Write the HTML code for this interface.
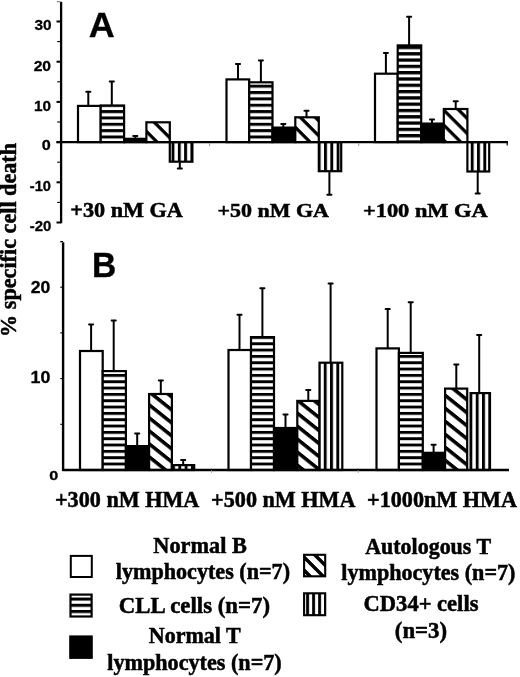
<!DOCTYPE html>
<html><head><meta charset="utf-8"><style>
html,body{margin:0;padding:0;background:#fff;}
body{width:520px;height:677px;overflow:hidden;font-family:"Liberation Sans", sans-serif;}
svg{display:block;will-change:transform;} text{stroke:#000;stroke-width:0.5px;font-variant-ligatures:none;} text.s{stroke-width:0.3px;}
</style></head><body>
<svg width="520" height="677" viewBox="0 0 520 677">
<defs><pattern id="hA" patternUnits="userSpaceOnUse" x="0" y="110.10" width="8" height="6.35"><rect width="8" height="6.35" fill="#fff"/><rect width="8" height="3.0" fill="#000"/></pattern><pattern id="hB" patternUnits="userSpaceOnUse" x="0" y="373.95" width="8" height="6.33"><rect width="8" height="6.33" fill="#fff"/><rect width="8" height="2.9" fill="#000"/></pattern><pattern id="hL" patternUnits="userSpaceOnUse" x="0" y="597.55" width="8" height="6.2"><rect width="8" height="6.2" fill="#fff"/><rect width="8" height="3.1" fill="#000"/></pattern><pattern id="hA0" patternUnits="userSpaceOnUse" x="0" y="110.10" width="8" height="6.35"><rect width="8" height="6.35" fill="#fff"/><rect width="8" height="3.0" fill="#000"/></pattern><pattern id="hA1" patternUnits="userSpaceOnUse" x="0" y="110.10" width="8" height="6.35"><rect width="8" height="6.35" fill="#fff"/><rect width="8" height="3.0" fill="#000"/></pattern><pattern id="hA2" patternUnits="userSpaceOnUse" x="0" y="52.15" width="8" height="6.3"><rect width="8" height="6.3" fill="#fff"/><rect width="8" height="3.3" fill="#000"/></pattern><pattern id="hB0" patternUnits="userSpaceOnUse" x="0" y="373.95" width="8" height="6.33"><rect width="8" height="6.33" fill="#fff"/><rect width="8" height="2.9" fill="#000"/></pattern><pattern id="hB1" patternUnits="userSpaceOnUse" x="0" y="373.95" width="8" height="6.33"><rect width="8" height="6.33" fill="#fff"/><rect width="8" height="2.9" fill="#000"/></pattern><pattern id="hB2" patternUnits="userSpaceOnUse" x="0" y="373.95" width="8" height="6.33"><rect width="8" height="6.33" fill="#fff"/><rect width="8" height="2.9" fill="#000"/></pattern><pattern id="v2" patternUnits="userSpaceOnUse" x="177.85" y="0" width="6.3" height="8"><rect width="6.3" height="8" fill="#fff"/><rect width="2.9" height="8" fill="#000"/></pattern><pattern id="v4" patternUnits="userSpaceOnUse" x="324.05" y="0" width="6.3" height="8"><rect width="6.3" height="8" fill="#fff"/><rect width="2.9" height="8" fill="#000"/></pattern><pattern id="v6" patternUnits="userSpaceOnUse" x="477.05" y="0" width="6.3" height="8"><rect width="6.3" height="8" fill="#fff"/><rect width="2.9" height="8" fill="#000"/></pattern><pattern id="v8" patternUnits="userSpaceOnUse" x="178.35" y="0" width="6.3" height="8"><rect width="6.3" height="8" fill="#fff"/><rect width="2.9" height="8" fill="#000"/></pattern><pattern id="v10" patternUnits="userSpaceOnUse" x="323.75" y="0" width="6.3" height="8"><rect width="6.3" height="8" fill="#fff"/><rect width="2.9" height="8" fill="#000"/></pattern><pattern id="v12" patternUnits="userSpaceOnUse" x="475.75" y="0" width="6.3" height="8"><rect width="6.3" height="8" fill="#fff"/><rect width="2.9" height="8" fill="#000"/></pattern><pattern id="v14" patternUnits="userSpaceOnUse" x="306.15" y="0" width="6.0" height="8"><rect width="6.0" height="8" fill="#fff"/><rect width="2.9" height="8" fill="#000"/></pattern><pattern id="d1" patternUnits="userSpaceOnUse" x="0" y="-34.30" width="20" height="17.0" patternTransform="skewY(45.000)"><rect width="20" height="17.0" fill="#fff"/><rect width="20" height="4.6" fill="#000"/></pattern><pattern id="d3" patternUnits="userSpaceOnUse" x="0" y="-185.30" width="20" height="15.0" patternTransform="skewY(45.000)"><rect width="20" height="15.0" fill="#fff"/><rect width="20" height="4.6" fill="#000"/></pattern><pattern id="d5" patternUnits="userSpaceOnUse" x="0" y="-336.00" width="20" height="15.0" patternTransform="skewY(45.000)"><rect width="20" height="15.0" fill="#fff"/><rect width="20" height="4.6" fill="#000"/></pattern><pattern id="d7" patternUnits="userSpaceOnUse" x="0" y="283.20" width="20" height="13.0" patternTransform="skewY(38.660)"><rect width="20" height="13.0" fill="#fff"/><rect width="20" height="4.6" fill="#000"/></pattern><pattern id="d9" patternUnits="userSpaceOnUse" x="0" y="173.00" width="20" height="13.0" patternTransform="skewY(38.660)"><rect width="20" height="13.0" fill="#fff"/><rect width="20" height="4.6" fill="#000"/></pattern><pattern id="d11" patternUnits="userSpaceOnUse" x="0" y="36.90" width="20" height="13.0" patternTransform="skewY(38.660)"><rect width="20" height="13.0" fill="#fff"/><rect width="20" height="4.6" fill="#000"/></pattern><pattern id="d13" patternUnits="userSpaceOnUse" x="0" y="250.65" width="20" height="13.0" patternTransform="skewY(45.000)"><rect width="20" height="13.0" fill="#fff"/><rect width="20" height="4.9" fill="#000"/></pattern></defs>
<rect width="520" height="677" fill="#fff"/>
<rect x="78.00" y="105.90" width="22.70" height="36.20" fill="#fff" stroke="#000" stroke-width="2.2"/>
<rect x="100.70" y="105.50" width="23.40" height="36.60" fill="url(#hA0)" stroke="#000" stroke-width="2.2"/>
<rect x="124.10" y="138.80" width="22.30" height="3.30" fill="#000" stroke="#000" stroke-width="2.2"/>
<rect x="146.40" y="122.30" width="23.40" height="19.80" fill="url(#d1)" stroke="#000" stroke-width="2.2"/>
<rect x="169.80" y="142.10" width="22.60" height="19.60" fill="url(#v2)" stroke="#000" stroke-width="2.2"/>
<line x1="88.30" y1="105.80" x2="88.30" y2="91.80" stroke="#000" stroke-width="2.0"/>
<rect x="85.30" y="90.80" width="6.0" height="2.0" rx="0.8" fill="#000"/>
<line x1="111.80" y1="105.40" x2="111.80" y2="81.60" stroke="#000" stroke-width="2.0"/>
<rect x="108.80" y="80.60" width="6.0" height="2.0" rx="0.8" fill="#000"/>
<line x1="135.30" y1="138.70" x2="135.30" y2="136.00" stroke="#000" stroke-width="2.0"/>
<rect x="132.30" y="135.00" width="6.0" height="2.0" rx="0.8" fill="#000"/>
<line x1="179.80" y1="161.80" x2="179.80" y2="168.60" stroke="#000" stroke-width="2.0"/>
<rect x="176.80" y="167.60" width="6.0" height="2.0" rx="0.8" fill="#000"/>
<rect x="226.50" y="79.40" width="22.70" height="62.70" fill="#fff" stroke="#000" stroke-width="2.2"/>
<rect x="249.20" y="82.30" width="23.30" height="59.80" fill="url(#hA1)" stroke="#000" stroke-width="2.2"/>
<rect x="272.50" y="127.60" width="22.80" height="14.50" fill="#000" stroke="#000" stroke-width="2.2"/>
<rect x="295.30" y="117.30" width="23.50" height="24.80" fill="url(#d3)" stroke="#000" stroke-width="2.2"/>
<rect x="318.80" y="142.10" width="22.40" height="29.10" fill="url(#v4)" stroke="#000" stroke-width="2.2"/>
<line x1="238.00" y1="79.30" x2="238.00" y2="64.00" stroke="#000" stroke-width="2.0"/>
<rect x="235.00" y="63.00" width="6.0" height="2.0" rx="0.8" fill="#000"/>
<line x1="260.90" y1="82.20" x2="260.90" y2="60.40" stroke="#000" stroke-width="2.0"/>
<rect x="257.90" y="59.40" width="6.0" height="2.0" rx="0.8" fill="#000"/>
<line x1="283.30" y1="127.50" x2="283.30" y2="124.10" stroke="#000" stroke-width="2.0"/>
<rect x="280.30" y="123.10" width="6.0" height="2.0" rx="0.8" fill="#000"/>
<line x1="306.50" y1="117.20" x2="306.50" y2="110.80" stroke="#000" stroke-width="2.0"/>
<rect x="303.50" y="109.80" width="6.0" height="2.0" rx="0.8" fill="#000"/>
<line x1="329.40" y1="171.30" x2="329.40" y2="194.80" stroke="#000" stroke-width="2.0"/>
<rect x="326.40" y="193.80" width="6.0" height="2.0" rx="0.8" fill="#000"/>
<rect x="375.00" y="73.70" width="22.70" height="68.40" fill="#fff" stroke="#000" stroke-width="2.2"/>
<rect x="397.70" y="45.40" width="23.50" height="96.70" fill="url(#hA2)" stroke="#000" stroke-width="2.2"/>
<rect x="421.20" y="123.60" width="22.60" height="18.50" fill="#000" stroke="#000" stroke-width="2.2"/>
<rect x="443.80" y="109.00" width="23.60" height="33.10" fill="url(#d5)" stroke="#000" stroke-width="2.2"/>
<rect x="467.40" y="142.10" width="21.80" height="29.40" fill="url(#v6)" stroke="#000" stroke-width="2.2"/>
<line x1="385.90" y1="73.60" x2="385.90" y2="52.90" stroke="#000" stroke-width="2.0"/>
<rect x="382.90" y="51.90" width="6.0" height="2.0" rx="0.8" fill="#000"/>
<line x1="409.10" y1="45.30" x2="409.10" y2="16.80" stroke="#000" stroke-width="2.0"/>
<rect x="406.10" y="15.80" width="6.0" height="2.0" rx="0.8" fill="#000"/>
<line x1="432.00" y1="123.50" x2="432.00" y2="119.60" stroke="#000" stroke-width="2.0"/>
<rect x="429.00" y="118.60" width="6.0" height="2.0" rx="0.8" fill="#000"/>
<line x1="455.70" y1="108.90" x2="455.70" y2="101.30" stroke="#000" stroke-width="2.0"/>
<rect x="452.70" y="100.30" width="6.0" height="2.0" rx="0.8" fill="#000"/>
<line x1="477.70" y1="171.60" x2="477.70" y2="193.50" stroke="#000" stroke-width="2.0"/>
<rect x="474.70" y="192.50" width="6.0" height="2.0" rx="0.8" fill="#000"/>
<line x1="61.1" y1="1.8" x2="61.1" y2="223.2" stroke="#000" stroke-width="2.3"/>
<line x1="56.8" y1="1.6" x2="61" y2="1.9" stroke="#888" stroke-width="1.2"/>
<line x1="56.5" y1="222.50" x2="61.1" y2="222.50" stroke="#000" stroke-width="2"/>
<line x1="57.2" y1="202.40" x2="61.1" y2="202.40" stroke="#000" stroke-width="1.1"/>
<line x1="56.5" y1="182.30" x2="61.1" y2="182.30" stroke="#000" stroke-width="2"/>
<line x1="57.2" y1="162.20" x2="61.1" y2="162.20" stroke="#000" stroke-width="1.1"/>
<line x1="56.5" y1="142.10" x2="61.1" y2="142.10" stroke="#000" stroke-width="2"/>
<line x1="57.2" y1="122.00" x2="61.1" y2="122.00" stroke="#000" stroke-width="1.1"/>
<line x1="56.5" y1="101.90" x2="61.1" y2="101.90" stroke="#000" stroke-width="2"/>
<line x1="57.2" y1="81.80" x2="61.1" y2="81.80" stroke="#000" stroke-width="1.1"/>
<line x1="56.5" y1="61.70" x2="61.1" y2="61.70" stroke="#000" stroke-width="2"/>
<line x1="57.2" y1="41.60" x2="61.1" y2="41.60" stroke="#000" stroke-width="1.1"/>
<line x1="56.5" y1="21.50" x2="61.1" y2="21.50" stroke="#000" stroke-width="2"/>
<line x1="56.5" y1="142.1" x2="508" y2="142.1" stroke="#000" stroke-width="2.2"/>
<line x1="209.6" y1="143" x2="209.6" y2="146" stroke="#999" stroke-width="1"/>
<line x1="358.7" y1="143" x2="358.7" y2="146" stroke="#999" stroke-width="1"/>
<line x1="507.2" y1="142.1" x2="507.2" y2="145.5" stroke="#000" stroke-width="1.2"/>
<rect x="80.00" y="351.00" width="22.70" height="119.00" fill="#fff" stroke="#000" stroke-width="2.2"/>
<rect x="102.70" y="371.10" width="23.20" height="98.90" fill="url(#hB0)" stroke="#000" stroke-width="2.2"/>
<rect x="125.90" y="446.10" width="23.20" height="23.90" fill="#000" stroke="#000" stroke-width="2.2"/>
<rect x="149.10" y="394.00" width="22.80" height="76.00" fill="url(#d7)" stroke="#000" stroke-width="2.2"/>
<rect x="171.90" y="465.10" width="22.30" height="4.90" fill="url(#v8)" stroke="#000" stroke-width="2.2"/>
<line x1="91.10" y1="350.90" x2="91.10" y2="324.40" stroke="#000" stroke-width="2.0"/>
<rect x="88.10" y="323.40" width="6.0" height="2.0" rx="0.8" fill="#000"/>
<line x1="113.70" y1="371.00" x2="113.70" y2="320.60" stroke="#000" stroke-width="2.0"/>
<rect x="110.70" y="319.60" width="6.0" height="2.0" rx="0.8" fill="#000"/>
<line x1="137.20" y1="446.00" x2="137.20" y2="433.50" stroke="#000" stroke-width="2.0"/>
<rect x="134.20" y="432.50" width="6.0" height="2.0" rx="0.8" fill="#000"/>
<line x1="160.80" y1="393.90" x2="160.80" y2="380.40" stroke="#000" stroke-width="2.0"/>
<rect x="157.80" y="379.40" width="6.0" height="2.0" rx="0.8" fill="#000"/>
<line x1="183.20" y1="465.00" x2="183.20" y2="460.00" stroke="#000" stroke-width="2.0"/>
<rect x="180.20" y="459.00" width="6.0" height="2.0" rx="0.8" fill="#000"/>
<rect x="228.50" y="350.00" width="22.50" height="120.00" fill="#fff" stroke="#000" stroke-width="2.2"/>
<rect x="251.00" y="337.10" width="23.00" height="132.90" fill="url(#hB1)" stroke="#000" stroke-width="2.2"/>
<rect x="274.00" y="428.00" width="23.30" height="42.00" fill="#000" stroke="#000" stroke-width="2.2"/>
<rect x="297.30" y="400.90" width="22.20" height="69.10" fill="url(#d9)" stroke="#000" stroke-width="2.2"/>
<rect x="319.50" y="362.70" width="22.80" height="107.30" fill="url(#v10)" stroke="#000" stroke-width="2.2"/>
<line x1="239.50" y1="349.90" x2="239.50" y2="314.70" stroke="#000" stroke-width="2.0"/>
<rect x="236.50" y="313.70" width="6.0" height="2.0" rx="0.8" fill="#000"/>
<line x1="262.40" y1="337.00" x2="262.40" y2="288.20" stroke="#000" stroke-width="2.0"/>
<rect x="259.40" y="287.20" width="6.0" height="2.0" rx="0.8" fill="#000"/>
<line x1="285.50" y1="427.90" x2="285.50" y2="414.50" stroke="#000" stroke-width="2.0"/>
<rect x="282.50" y="413.50" width="6.0" height="2.0" rx="0.8" fill="#000"/>
<line x1="308.30" y1="400.80" x2="308.30" y2="390.10" stroke="#000" stroke-width="2.0"/>
<rect x="305.30" y="389.10" width="6.0" height="2.0" rx="0.8" fill="#000"/>
<line x1="330.60" y1="362.60" x2="330.60" y2="283.60" stroke="#000" stroke-width="2.0"/>
<rect x="327.60" y="282.60" width="6.0" height="2.0" rx="0.8" fill="#000"/>
<rect x="376.50" y="348.40" width="22.40" height="121.60" fill="#fff" stroke="#000" stroke-width="2.2"/>
<rect x="398.90" y="352.90" width="23.90" height="117.10" fill="url(#hB2)" stroke="#000" stroke-width="2.2"/>
<rect x="422.80" y="452.80" width="22.30" height="17.20" fill="#000" stroke="#000" stroke-width="2.2"/>
<rect x="445.10" y="388.60" width="22.10" height="81.40" fill="url(#d11)" stroke="#000" stroke-width="2.2"/>
<rect x="470.60" y="393.10" width="19.40" height="76.90" fill="url(#v12)" stroke="#000" stroke-width="2.2"/>
<line x1="387.70" y1="348.30" x2="387.70" y2="309.10" stroke="#000" stroke-width="2.0"/>
<rect x="384.70" y="308.10" width="6.0" height="2.0" rx="0.8" fill="#000"/>
<line x1="410.70" y1="352.80" x2="410.70" y2="302.30" stroke="#000" stroke-width="2.0"/>
<rect x="407.70" y="301.30" width="6.0" height="2.0" rx="0.8" fill="#000"/>
<line x1="433.60" y1="452.70" x2="433.60" y2="444.80" stroke="#000" stroke-width="2.0"/>
<rect x="430.60" y="443.80" width="6.0" height="2.0" rx="0.8" fill="#000"/>
<line x1="456.30" y1="388.50" x2="456.30" y2="364.50" stroke="#000" stroke-width="2.0"/>
<rect x="453.30" y="363.50" width="6.0" height="2.0" rx="0.8" fill="#000"/>
<line x1="479.20" y1="393.00" x2="479.20" y2="335.10" stroke="#000" stroke-width="2.0"/>
<rect x="476.20" y="334.10" width="6.0" height="2.0" rx="0.8" fill="#000"/>
<line x1="63.1" y1="242.2" x2="63.1" y2="471" stroke="#000" stroke-width="2.4"/>
<line x1="59.8" y1="242.2" x2="62.5" y2="242.4" stroke="#aaa" stroke-width="1.1"/>
<line x1="60.3" y1="424.30" x2="63.1" y2="424.30" stroke="#000" stroke-width="1.1"/>
<line x1="60.3" y1="378.60" x2="63.1" y2="378.60" stroke="#000" stroke-width="1.1"/>
<line x1="60.3" y1="332.90" x2="63.1" y2="332.90" stroke="#000" stroke-width="1.1"/>
<line x1="60.3" y1="287.20" x2="63.1" y2="287.20" stroke="#000" stroke-width="1.1"/>
<line x1="60.3" y1="241.50" x2="63.1" y2="241.50" stroke="#000" stroke-width="1.1"/>
<line x1="62.4" y1="470.0" x2="509" y2="470.0" stroke="#000" stroke-width="2.4"/>
<line x1="211.6" y1="470.0" x2="211.6" y2="473" stroke="#999" stroke-width="0.8"/>
<line x1="358.2" y1="470.0" x2="358.2" y2="473" stroke="#999" stroke-width="0.8"/>
<text transform="translate(34.41,30.05) scale(1.0320,1)" font-family='"Liberation Sans", sans-serif' font-weight="bold" font-size="14.93" class="s" >30</text>
<text transform="translate(33.65,70.65) scale(1.0686,1)" font-family='"Liberation Sans", sans-serif' font-weight="bold" font-size="14.65" class="s" >20</text>
<text transform="translate(34.00,110.65) scale(1.0461,1)" font-family='"Liberation Sans", sans-serif' font-weight="bold" font-size="14.65" class="s" >10</text>
<text transform="translate(41.85,150.46) scale(1.1744,1)" font-family='"Liberation Sans", sans-serif' font-weight="bold" font-size="13.80" class="s" >0</text>
<text transform="translate(29.81,190.65) scale(1.0003,1)" font-family='"Liberation Sans", sans-serif' font-weight="bold" font-size="14.65" class="s" >-10</text>
<text transform="translate(29.80,230.65) scale(1.0010,1)" font-family='"Liberation Sans", sans-serif' font-weight="bold" font-size="14.93" class="s" >-20</text>
<text transform="translate(88.70,37.20) scale(1.0214,1)" font-family='"Liberation Sans", sans-serif' font-weight="bold" font-size="35.22" class="s" >A</text>
<text transform="translate(30.68,292.94) scale(1.0671,1)" font-family='"Liberation Sans", sans-serif' font-weight="bold" font-size="16.48" class="s" >20</text>
<text transform="translate(30.54,382.93) scale(1.0627,1)" font-family='"Liberation Sans", sans-serif' font-weight="bold" font-size="16.76" class="s" >10</text>
<text transform="translate(49.35,480.06) scale(1.1989,1)" font-family='"Liberation Sans", sans-serif' font-weight="bold" font-size="13.52" class="s" >0</text>
<text transform="translate(91.92,276.50) scale(0.9582,1)" font-family='"Liberation Sans", sans-serif' font-weight="bold" font-size="35.07" class="s" >B</text>
<text transform="translate(70.28,216.80) scale(1.1016,1)" font-family='"Liberation Serif", serif' font-weight="bold" font-size="20.15"  >+30 nM GA</text>
<text transform="translate(217.54,216.60) scale(1.1228,1)" font-family='"Liberation Serif", serif' font-weight="bold" font-size="19.56"  >+50 nM GA</text>
<text transform="translate(362.97,216.81) scale(1.1638,1)" font-family='"Liberation Serif", serif' font-weight="bold" font-size="19.26"  >+100 nM GA</text>
<text transform="translate(54.98,507.18) scale(0.9911,1)" font-family='"Liberation Serif", serif' font-weight="bold" font-size="22.37"  >+300 nM HMA</text>
<text transform="translate(211.08,507.18) scale(0.9918,1)" font-family='"Liberation Serif", serif' font-weight="bold" font-size="22.37"  >+500 nM HMA</text>
<text transform="translate(367.08,507.18) scale(1.0041,1)" font-family='"Liberation Serif", serif' font-weight="bold" font-size="22.07"  >+1000nM HMA</text>
<text transform="translate(153.35,553.10) scale(1.0041,1)" font-family='"Liberation Serif", serif' font-weight="bold" font-size="22.20"  >Normal B</text>
<text transform="translate(115.76,578.80) scale(0.9978,1)" font-family='"Liberation Serif", serif' font-weight="bold" font-size="22.20"  >lymphocytes (n=7)</text>
<text transform="translate(118.86,612.80) scale(1.0284,1)" font-family='"Liberation Serif", serif' font-weight="bold" font-size="22.20"  >CLL cells (n=7)</text>
<text transform="translate(148.76,643.00) scale(0.9923,1)" font-family='"Liberation Serif", serif' font-weight="bold" font-size="22.20"  >Normal T</text>
<text transform="translate(107.26,669.80) scale(0.9984,1)" font-family='"Liberation Serif", serif' font-weight="bold" font-size="22.20"  >lymphocytes (n=7)</text>
<text transform="translate(365.18,554.20) scale(0.9901,1)" font-family='"Liberation Serif", serif' font-weight="bold" font-size="22.20"  >Autologous T</text>
<text transform="translate(341.26,579.80) scale(0.9966,1)" font-family='"Liberation Serif", serif' font-weight="bold" font-size="22.20"  >lymphocytes (n=7)</text>
<text transform="translate(363.57,611.00) scale(1.0156,1)" font-family='"Liberation Serif", serif' font-weight="bold" font-size="22.20"  >CD34+ cells</text>
<text transform="translate(394.77,638.30) scale(1.0296,1)" font-family='"Liberation Serif", serif' font-weight="bold" font-size="22.20"  >(n=3)</text>
<text transform="translate(16.4,336.93) rotate(-90) scale(0.9991,1)" font-family='"Liberation Serif", serif' font-weight="bold" font-size="22.2">% specific cell death</text>
<rect x="70.8" y="555.9" width="21.0" height="21.1" fill="#fff" stroke="#000" stroke-width="2"/>
<rect x="70.5" y="594.6" width="21.1" height="21.9" fill="url(#hL)" stroke="#000" stroke-width="2.2"/>
<rect x="69.2" y="635.4" width="23.6" height="23.5" fill="#000"/>
<rect x="304.1" y="554.8" width="21.1" height="21.5" fill="url(#d13)" stroke="#000" stroke-width="2.1"/>
<rect x="304.1" y="593.3" width="21.1" height="21.9" fill="url(#v14)" stroke="#000" stroke-width="2.1"/>
</svg>
</body></html>
